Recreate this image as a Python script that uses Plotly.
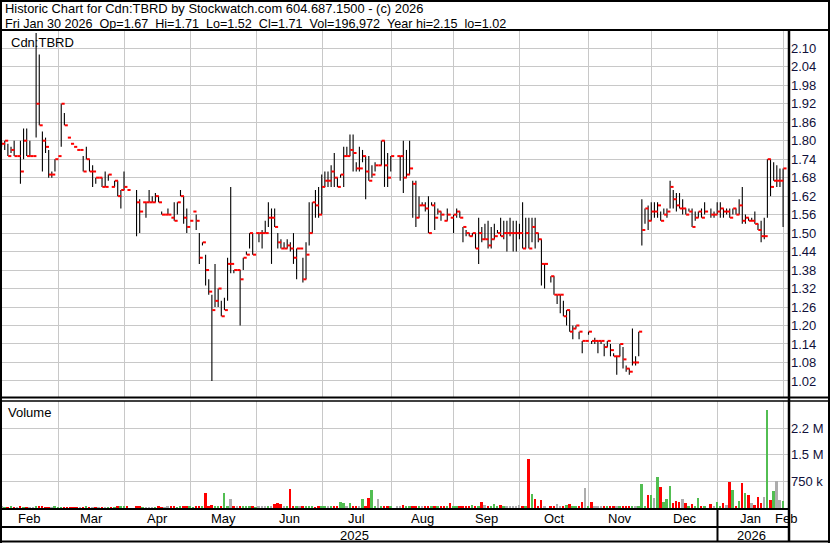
import pandas as pd
import plotly.graph_objects as go

W, H = 830, 543
FONT = "Arial, Liberation Sans, sans-serif"

# ---------------- data ----------------
holidays = ["2025-02-17", "2025-04-18", "2025-05-19", "2025-07-01", "2025-08-04",
            "2025-09-01", "2025-10-13", "2025-12-25", "2025-12-26", "2026-01-01"]
dates = pd.bdate_range("2025-02-03", "2026-01-30")
dates = dates[~dates.isin(pd.to_datetime(holidays))]

N = None
high = [
    # Feb
    1.80, 1.80, 1.79, 1.78, 1.80, 1.75, 1.80, 1.84, 1.84, 1.80, 1.75, 2.15, 2.08, 1.83, 1.81, 1.77, 1.70, 1.74, 1.75,
    # Mar
    1.92, 1.89, 1.81, 1.79, 1.78, 1.77, 1.77, 1.75, 1.78, 1.74, 1.72, 1.68, 1.68, 1.68, 1.70, 1.69, 1.65, 1.67, 1.67, 1.64, 1.70,
    # Apr
    1.64, N, N, 1.64, 1.61, 1.60, 1.60, 1.64, 1.62, 1.63, 1.62, 1.57, 1.56, 1.58, 1.55, 1.60, 1.60, 1.64, 1.62, 1.58, 1.54,
    # May
    1.57, 1.56, 1.50, 1.47, 1.43, 1.35, 1.30, 1.40, 1.32, 1.28, 1.29, 1.42, 1.65, 1.38, 1.38, 1.38, 1.42, 1.44, 1.50, 1.50, 1.50,
    # Jun
    1.50, 1.51, 1.54, 1.60, 1.58, 1.58, 1.50, 1.48, 1.47, 1.48, 1.47, 1.50, 1.45, 1.45, 1.42, 1.47, 1.60, 1.60, 1.64, 1.65, 1.69,
    # Jul
    1.70, 1.70, 1.72, 1.76, 1.68, 1.69, 1.78, 1.78, 1.82, 1.82, 1.73, 1.78, 1.77, 1.75, 1.75, 1.72, 1.73, 1.72, 1.80, 1.80, 1.76, 1.75,
    # Aug
    N, 1.75, 1.75, 1.80, 1.77, 1.80, 1.67, 1.67, 1.62, 1.60, 1.60, 1.62, 1.60, 1.60, 1.58, 1.57, 1.54, 1.58, 1.55, 1.56,
    # Sep
    1.58, 1.57, 1.52, 1.51, 1.50, 1.50, 1.50, 1.55, 1.52, 1.53, 1.54, 1.52, 1.53, 1.51, 1.55, 1.54, 1.54, 1.55, 1.54, 1.54, 1.53,
    # Oct
    1.60, 1.55, 1.55, 1.55, 1.55, 1.50, 1.48, 1.40, N, 1.36, 1.36, 1.30, 1.30, 1.28, 1.25, 1.25, 1.20, 1.20, 1.18, 1.15, 1.15, 1.18,
    # Nov
    1.15, 1.16, 1.15, 1.15, 1.14, 1.15, 1.14, 1.11, 1.10, 1.14, 1.13, 1.07, 1.06, 1.19, 1.10, 1.18, 1.61, 1.58, 1.59, 1.60,
    # Dec
    1.60, 1.60, 1.57, 1.58, 1.58, 1.67, 1.64, 1.63, 1.63, 1.61, 1.58, 1.58, 1.58, 1.57, 1.57, 1.58, 1.60, N, 1.58, 1.57, 1.60,
    # Jan
    1.60, 1.58, 1.58, 1.58, 1.58, 1.58, 1.61, 1.65, 1.56, 1.55, 1.55, 1.57, 1.53, 1.54, 1.55, 1.74, 1.74, 1.73, 1.72, 1.71, 1.71,
]
low = [
    1.78, 1.77, 1.75, 1.76, 1.75, 1.75, 1.66, 1.74, 1.75, 1.75, 1.75, 1.81, 1.85, 1.70, 1.76, 1.68, 1.68, 1.70, 1.75,
    1.78, 1.85, 1.81, 1.79, 1.78, 1.77, 1.77, 1.70, 1.74, 1.70, 1.65, 1.66, 1.68, 1.65, 1.65, 1.67, 1.65, 1.65, 1.62, 1.58, 1.64,
    1.64, N, N, 1.49, 1.50, 1.60, 1.55, 1.60, 1.60, 1.60, 1.60, 1.56, 1.56, 1.56, 1.55, 1.54, 1.56, 1.62, 1.53, 1.50, 1.54,
    1.57, 1.51, 1.40, 1.46, 1.33, 1.30, 1.02, 1.26, 1.26, 1.23, 1.25, 1.28, 1.37, 1.37, 1.38, 1.20, 1.38, 1.43, 1.45, 1.43, 1.50,
    1.47, 1.45, 1.50, 1.52, 1.40, 1.52, 1.45, 1.45, 1.45, 1.45, 1.44, 1.40, 1.35, 1.45, 1.34, 1.35, 1.46, 1.50, 1.55, 1.55, 1.56,
    1.65, 1.65, 1.65, 1.65, 1.65, 1.68, 1.65, 1.75, 1.75, 1.70, 1.70, 1.70, 1.73, 1.61, 1.67, 1.68, 1.70, 1.72, 1.72, 1.65, 1.65, 1.70,
    N, 1.75, 1.67, 1.63, 1.68, 1.69, 1.55, 1.52, 1.55, 1.59, 1.57, 1.50, 1.59, 1.51, 1.56, 1.54, 1.54, 1.54, 1.55, 1.50,
    1.55, 1.55, 1.47, 1.49, 1.49, 1.49, 1.45, 1.40, 1.47, 1.48, 1.45, 1.45, 1.48, 1.50, 1.49, 1.48, 1.44, 1.49, 1.44, 1.44, 1.48,
    1.45, 1.45, 1.45, 1.47, 1.45, 1.47, 1.33, 1.32, N, 1.34, 1.30, 1.27, 1.24, 1.23, 1.20, 1.18, 1.155, 1.19, 1.155, 1.11, 1.15, 1.17,
    1.14, 1.14, 1.11, 1.14, 1.10, 1.13, 1.10, 1.10, 1.04, 1.10, 1.06, 1.05, 1.04, 1.07, 1.07, 1.10, 1.46, 1.53, 1.51, 1.54,
    1.55, 1.55, 1.54, 1.56, 1.55, 1.58, 1.58, 1.57, 1.58, 1.56, 1.56, 1.57, 1.52, 1.54, 1.55, 1.55, 1.56, N, 1.55, 1.55, 1.56,
    1.55, 1.55, 1.56, 1.55, 1.56, 1.56, 1.56, 1.53, 1.53, 1.54, 1.54, 1.53, 1.51, 1.47, 1.48, 1.55, 1.62, 1.67, 1.65, 1.65, 1.52,
]
close = [
    1.79, 1.80, 1.75, 1.77, 1.75, 1.75, 1.70, 1.80, 1.75, 1.75, 1.75, 1.92, 1.85, 1.80, 1.78, 1.69, 1.69, 1.74, 1.75,
    1.92, 1.85, 1.81, 1.79, 1.78, 1.77, 1.77, 1.70, 1.74, 1.70, 1.70, 1.68, 1.68, 1.65, 1.65, 1.69, 1.65, 1.67, 1.62, 1.64, 1.65,
    1.64, N, N, 1.60, 1.57, 1.60, 1.60, 1.60, 1.60, 1.62, 1.60, 1.56, 1.56, 1.56, 1.55, 1.54, 1.60, 1.62, 1.55, 1.52, 1.54,
    1.57, 1.54, 1.42, 1.47, 1.38, 1.31, 1.25, 1.28, 1.32, 1.23, 1.25, 1.40, 1.40, 1.38, 1.38, 1.35, 1.42, 1.43, 1.50, 1.43, 1.50,
    1.50, 1.50, 1.50, 1.55, 1.55, 1.52, 1.47, 1.45, 1.45, 1.46, 1.45, 1.42, 1.45, 1.45, 1.35, 1.43, 1.50, 1.60, 1.59, 1.56, 1.65,
    1.67, 1.67, 1.70, 1.68, 1.65, 1.69, 1.75, 1.75, 1.77, 1.76, 1.71, 1.71, 1.75, 1.70, 1.67, 1.69, 1.72, 1.72, 1.80, 1.72, 1.68, 1.75,
    N, 1.75, 1.75, 1.68, 1.69, 1.71, 1.66, 1.55, 1.59, 1.59, 1.58, 1.50, 1.59, 1.55, 1.57, 1.56, 1.54, 1.56, 1.55, 1.56,
    1.57, 1.55, 1.52, 1.50, 1.49, 1.50, 1.45, 1.50, 1.48, 1.48, 1.46, 1.48, 1.49, 1.50, 1.49, 1.50, 1.50, 1.50, 1.50, 1.50, 1.50,
    1.45, 1.50, 1.45, 1.52, 1.50, 1.48, 1.40, 1.40, N, 1.36, 1.30, 1.30, 1.30, 1.23, 1.25, 1.18, 1.19, 1.20, 1.18, 1.15, 1.15, 1.18,
    1.15, 1.15, 1.15, 1.15, 1.13, 1.15, 1.12, 1.10, 1.10, 1.14, 1.09, 1.06, 1.05, 1.08, 1.08, 1.18, 1.51, 1.58, 1.54, 1.57,
    1.57, 1.59, 1.54, 1.56, 1.57, 1.65, 1.61, 1.59, 1.58, 1.58, 1.56, 1.57, 1.52, 1.55, 1.57, 1.55, 1.57, N, 1.56, 1.56, 1.57,
    1.58, 1.57, 1.57, 1.55, 1.58, 1.56, 1.59, 1.54, 1.55, 1.54, 1.54, 1.53, 1.51, 1.49, 1.49, 1.74, 1.65, 1.67, 1.67, 1.67, 1.71,
]
volume = [
    30000, 25000, 28000, 30000, 25000, 22000, 30000, 28000, 25000, 22000, 20000, 50000, 35000, 30000, 28000, 25000, 22000, 30000, 25000,
    28000, 25000, 22000, 25000, 20000, 22000, 25000, 28000, 30000, 25000, 22000, 20000, 25000, 28000, 22000, 25000, 20000, 22000, 30000, 50000, 35000,
    30000, N, N, 35000, 30000, 25000, 28000, 25000, 22000, 28000, 30000, 25000, 28000, 30000, 35000, 30000, 28000, 40000, 55000, 55000, 30000,
    28000, 35000, 40000, 30000, 432000, 45000, 75000, 40000, 50000, 45000, 414000, 30000, 263000, 35000, 30000, 40000, 30000, 35000, 45000, 30000, 28000,
    30000, 35000, 30000, 40000, 60000, 120000, 140000, 120000, 40000, 35000, 545000, 40000, 35000, 30000, 35000, 30000, 40000, 30000, 28000, 45000, 50000,
    40000, 60000, 45000, 30000, 50000, 170000, 150000, 40000, 141000, 60000, 45000, 50000, 254000, 45000, 282000, 508000, 38000, 254000, 40000, 56000, 35000, 30000,
    N, 38000, 35000, 85000, 30000, 38000, 35000, 66000, 30000, 35000, 38000, 40000, 35000, 40000, 38000, 35000, 38000, 40000, 141000, 66000,
    66000, 40000, 38000, 66000, 38000, 85000, 38000, 40000, 170000, 85000, 38000, 66000, 113000, 66000, 85000, 66000, 66000, 66000, 66000, 66000, 94000,
    38000, 38000, 1380000, 395000, 254000, 66000, 226000, 66000, N, 38000, 66000, 113000, 38000, 66000, 85000, 122000, 66000, 66000, 66000, 170000, 565000, 38000,
    170000, 66000, 38000, 38000, 66000, 38000, 38000, 66000, 38000, 66000, 66000, 38000, 56000, 38000, 38000, 38000, 677000, 45000, 367000, 367000,
    292000, 875000, 593000, 170000, 254000, 630000, 141000, 198000, 170000, 254000, 141000, 38000, 103000, 38000, 282000, 66000, 38000, N, 113000, 66000, 170000,
    66000, 141000, 85000, 734000, 508000, 45000, 198000, 706000, 423000, 367000, 141000, 85000, 310000, 141000, 310000, 2770000, 226000, 480000, 762000, 226000, 196972,
]

price_ticks = [round(1.02 + 0.06 * k, 2) for k in range(19)]
vol_ticks = [750000, 1500000, 2250000]
vol_tick_text = ["750 k", "1.5 M", "2.2 M"]
month_names = ["Feb", "Mar", "Apr", "May", "Jun", "Jul", "Aug", "Sep", "Oct", "Nov", "Dec", "Jan", "Feb"]
year_names = ["2025", "2026"]

header1 = "Historic Chart for Cdn:TBRD by Stockwatch.com 604.687.1500 - (c) 2026"
header2 = "Fri Jan 30 2026  Op=1.67  Hi=1.71  Lo=1.52  Cl=1.71  Vol=196,972  Year hi=2.15  lo=1.02"

# ---------------- geometry helpers ----------------
X0, DX = 1.6, 3.1385           # pixel position of bar index 0, pixels per bar


def xi(px):
    return (px - X0) / DX


def py(px):
    return 1 - px / H


def px_to_price(ypx):
    return 2.10 - (ypx - 48.3) / 308.0


n = len(dates)
months = pd.Series(dates.month + dates.year * 100)
starts = [0] + [i for i in range(1, n) if months[i] != months[i - 1]]
bounds = starts[1:] + [n]
grid_x = [b - 0.9 for b in bounds]

GREEN, RED, GRAY = "#52BE52", "#FF0000", "#ADADAD"

# ---------------- traces ----------------
hl_x, hl_y, ck_x, ck_y = [], [], [], []
for i, (h, l, c) in enumerate(zip(high, low, close)):
    if c is None:
        continue
    hl_x += [i, i, None]
    hl_y += [l, h, None]
    ck_x += [i + 0.1, i + 1.1, None]
    ck_y += [c, c, None]

vcolors = []
prev = None
for c in close:
    if c is None:
        vcolors.append(GRAY)
        continue
    if prev is None or c == prev:
        vcolors.append(GRAY)
    elif c > prev:
        vcolors.append(GREEN)
    else:
        vcolors.append(RED)
    prev = c

fig = go.Figure()
fig.add_trace(go.Scatter(x=hl_x, y=hl_y, mode="lines", line=dict(color="black", width=1.1),
                         hoverinfo="skip", xaxis="x", yaxis="y"))
fig.add_trace(go.Scatter(x=ck_x, y=ck_y, mode="lines", line=dict(color=RED, width=2),
                         hoverinfo="skip", xaxis="x", yaxis="y"))
fig.add_trace(go.Bar(x=list(range(n)), y=volume, marker=dict(color=vcolors, line=dict(width=0)),
                     width=0.62, xaxis="x2", yaxis="y2", hoverinfo="skip"))

# ---------------- layout ----------------
xr = [xi(2), xi(790)]
xdom = [2 / W, 790 / W]
axis_common = dict(range=xr, domain=xdom, tickvals=grid_x, showticklabels=False, ticks="",
                   showgrid=True, gridcolor="#C8C8C8", gridwidth=1, zeroline=False, showline=False)

P_TOP, P_BOT = 31, 397
V_TOP, V_BOT = 401, 508
vol_px_per = 26.57 / 750000

fig.update_layout(
    width=W, height=H, autosize=False,
    margin=dict(l=0, r=0, t=0, b=0),
    paper_bgcolor="white", plot_bgcolor="white",
    showlegend=False, bargap=0,
    font=dict(family=FONT, size=13, color="black"),
    xaxis=dict(anchor="y", **axis_common),
    xaxis2=dict(anchor="y2", matches="x", **axis_common),
    yaxis=dict(domain=[py(P_BOT), py(P_TOP)], range=[px_to_price(P_BOT), px_to_price(P_TOP)],
               side="right", tickvals=price_ticks, ticktext=[f"{v:.2f}" for v in price_ticks],
               ticks="", showgrid=True, gridcolor="#C8C8C8", gridwidth=1, zeroline=False, showline=False,
               tickfont=dict(family=FONT, size=13, color="#10103A")),
    yaxis2=dict(domain=[py(V_BOT), py(V_TOP)], range=[0, (V_BOT - V_TOP) / vol_px_per],
                side="right", tickvals=vol_ticks, ticktext=vol_tick_text,
                ticks="", showgrid=True, gridcolor="#C8C8C8", gridwidth=1, zeroline=False, showline=False,
                tickfont=dict(family=FONT, size=13, color="#10103A")),
)

shapes = []


def hline(ypx, x0, x1, w=2):
    shapes.append(dict(type="line", xref="paper", yref="paper", x0=x0 / W, x1=x1 / W,
                       y0=py(ypx), y1=py(ypx), line=dict(color="black", width=w)))


def vline(xpx, y0, y1, w=2):
    shapes.append(dict(type="line", xref="paper", yref="paper", x0=xpx / W, x1=xpx / W,
                       y0=py(y0), y1=py(y1), line=dict(color="black", width=w)))


hline(1, 0, W, 2)
hline(30, 0, W, 2)
hline(397.5, 0, W, 2)
hline(401, 0, W, 1.5)
hline(509, 0, 790, 2)
hline(527, 0, 790, 2)
hline(541.5, 0, W, 2)
vline(1, 0, H, 2)
vline(829, 0, H, 2)
vline(789, 30, 541.5, 2.5)
# year separator at the January boundary
jan_idx = bounds[10]
shapes.append(dict(type="line", xref="x", yref="paper", x0=jan_idx - 0.9, x1=jan_idx - 0.9,
                   y0=py(509), y1=py(541.5), line=dict(color="black", width=2)))
fig.update_layout(shapes=shapes)

annotations = []


def ann(text, x, ypx, xref="paper", xanchor="left", size=13):
    annotations.append(dict(text=text.replace(" ", "\u00a0"), x=x, y=py(ypx), xref=xref, yref="paper",
                            xanchor=xanchor, yanchor="middle", showarrow=False,
                            font=dict(family=FONT, size=size, color="black")))


ann(header1, 3 / W, 9, size=12.9)
ann(header2, 3 / W, 24, size=12.6)
ann("Cdn:TBRD", 9 / W, 42)
ann("Volume", 6 / W, 413)

for k, name in enumerate(month_names):
    if k < len(starts):
        a = starts[k]
        b = bounds[k] - 1
        pos = (a + b) / 2 - 0.4
    else:
        pos = n
    ann(name, pos, 518, xref="x", xanchor="center")

ann(year_names[0], 112.5, 535, xref="x", xanchor="center")
ann(year_names[1], (bounds[10] + n - 1) / 2 - 0.2, 535, xref="x", xanchor="center")
fig.update_layout(annotations=annotations)

fig.write_html("out.html", config={"displayModeBar": False},
               post_script="document.body.style.margin='0';document.body.style.overflow='hidden';")
